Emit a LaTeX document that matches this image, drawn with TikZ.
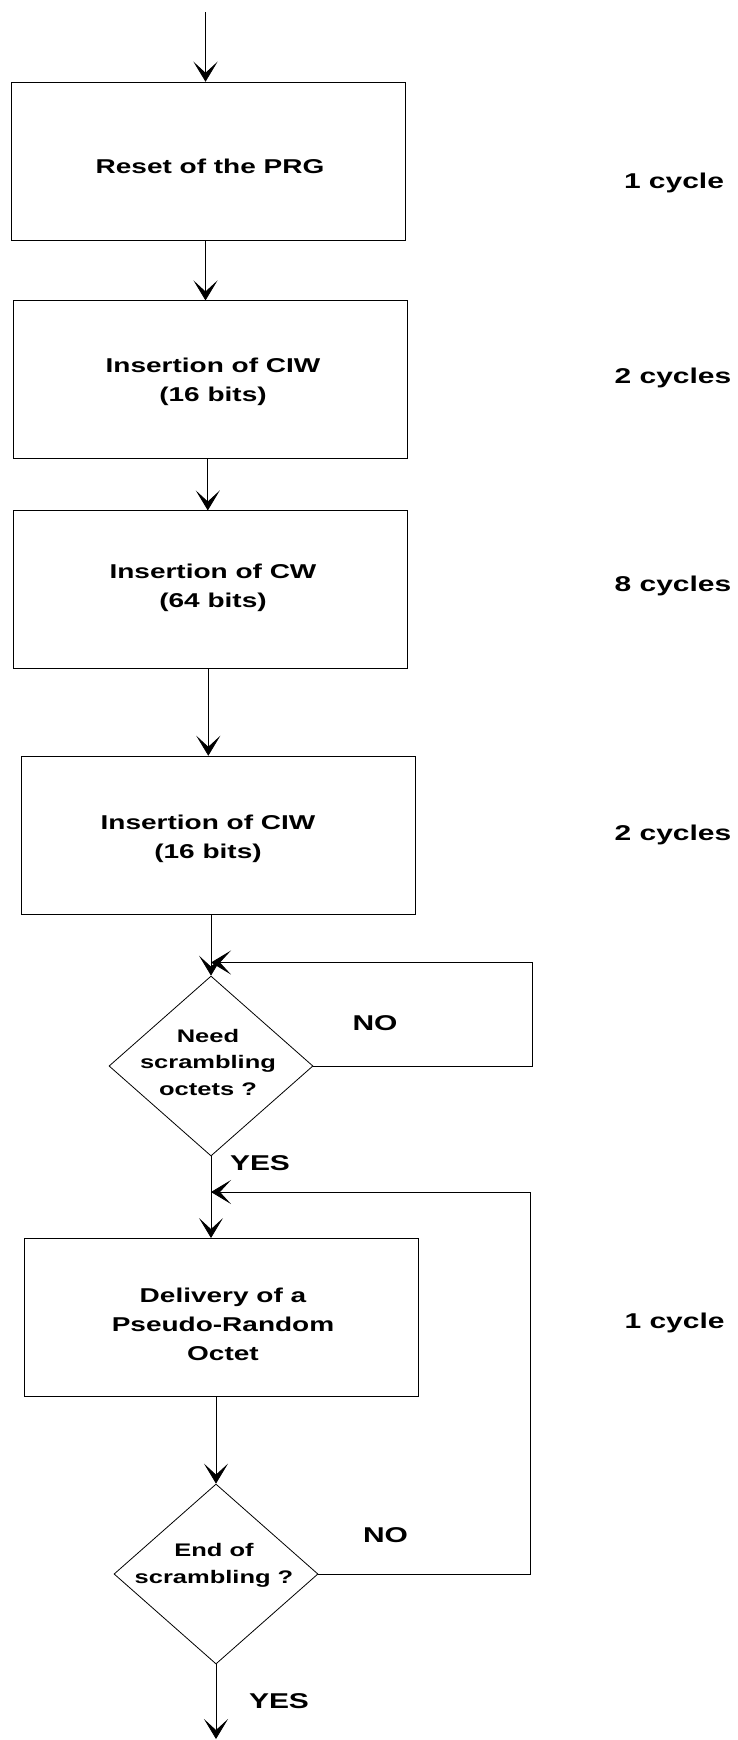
\documentclass[tikz,border=0pt]{standalone}
\usepackage{fontspec}
\setmainfont{Liberation Sans}[FakeStretch=1.4]
\usetikzlibrary{arrows.meta,shapes.geometric}
\begin{document}
\begin{tikzpicture}[x=1pt,y=-1pt,
  box/.style={draw,line width=0.9pt,minimum width=394pt,minimum height=158pt,inner sep=0pt},
  dia/.style={draw,diamond,line width=0.8pt,minimum width=204pt,minimum height=180pt,inner sep=0pt},
  boxtext/.style={font=\fontsize{20}{29}\selectfont\bfseries,align=center,inner sep=0pt},
  diatext/.style={font=\fontsize{18.2}{26.5}\selectfont\bfseries,align=center,inner sep=0pt},
  lbl/.style={font=\fontsize{21.4}{26}\selectfont\bfseries,inner sep=0pt,text height=0.72em,text depth=0pt},
  arr/.style={line width=0.8pt,-{Stealth[length=20pt,width=24pt,inset=11pt]}},
  ln/.style={line width=0.8pt}]
\useasboundingbox (0,0) rectangle (737,1740);
% boxes
\node[box] (b1) at (208,161.2) {};
\node[box] (b2) at (210.8,379.9) {};
\node[box] (b3) at (210.8,589.9) {};
\node[box] (b4) at (218.4,835.2) {};
\node[dia] (d1) at (211,1066) {};
\node[box] (b5) at (221.2,1317.5) {};
\node[dia] (d2) at (216,1574) {};
% texts
\node[boxtext] (t1) at (210,166) {Reset of the PRG};
\node[boxtext] (t2) at (213,382) {Insertion of CIW\\(16 bits)};
\node[boxtext] (t3) at (213,588) {Insertion of CW\\(64 bits)};
\node[boxtext] (t4) at (208,838.7) {Insertion of CIW\\(16 bits)};
\node[diatext] (td1) at (208,1062) {Need\\scrambling\\octets ?};
\node[boxtext] (t5) at (223,1324) {Delivery of a\\Pseudo-Random\\Octet};
\node[diatext] (td2) at (214,1565.5) {End of\\scrambling ?};
% cycle labels
\node[lbl] (c1) at (674,185) {1 cycle};
\node[lbl] (c2) at (673,380) {2 cycles};
\node[lbl] (c3) at (673,588) {8 cycles};
\node[lbl] (c4) at (673,837) {2 cycles};
\node[lbl] (c5) at (674.6,1325) {1 cycle};
% yes / no
\node[lbl] (no1) at (375,1027) {NO};
\node[lbl] (yes1) at (260,1167) {YES};
\node[lbl] (no2) at (385.5,1539) {NO};
\node[lbl] (yes2) at (279,1705) {YES};
% coordinates
\coordinate (s0) at (205.5,12);
\coordinate (x2) at (207.8,0);
\coordinate (x3) at (208.3,0);
\coordinate (l1c) at (532.5,962.5);
\coordinate (l1d) at (211,962.5);
\coordinate (l2c) at (530.3,1192);
\coordinate (l2d) at (211,1192);
\coordinate (e0) at (216,1739);
% connectors
\draw[arr] (s0) -- (s0 |- b1.north);
\draw[arr] (b1.south -| s0) -- (b2.north -| s0);
\draw[arr] (b2.south -| x2) -- (b3.north -| x2);
\draw[arr] (b3.south -| x3) -- (b4.north -| x3);
\draw[arr] (b4.south -| d1.north) -- (d1.north);
\draw[arr] (d1.south) -- (b5.north -| d1.south);
\draw[arr] (b5.south -| d2.north) -- (d2.north);
\draw[arr] (d2.south) -- (e0);
\draw[arr] (d1.east) -| (l1c) -- (l1d);
\draw[arr] (d2.east) -| (l2c) -- (l2d);
\end{tikzpicture}
\end{document}
